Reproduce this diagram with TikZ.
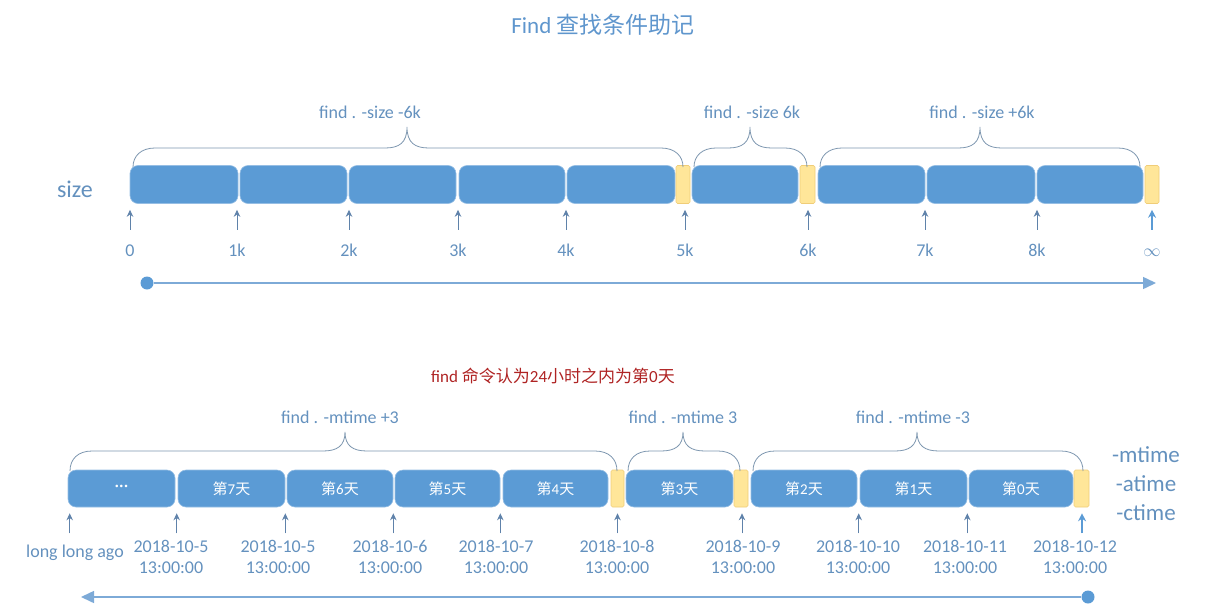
\documentclass[tikz,border=0pt]{standalone}
\usepackage{fontspec}
\setmainfont{Carlito}
\newfontfamily\cjk{Noto Sans CJK SC}
\usetikzlibrary{arrows.meta}
\definecolor{boxblue}{RGB}{91,155,213}
\definecolor{boxedge}{RGB}{150,190,228}
\definecolor{ylw}{RGB}{255,230,153}
\definecolor{ylwedge}{RGB}{240,205,120}
\definecolor{txtblue}{RGB}{100,145,190}
\definecolor{titleblue}{RGB}{95,150,205}
\definecolor{tickc}{RGB}{95,130,170}
\definecolor{bracec}{RGB}{125,150,175}
\definecolor{axisc}{RGB}{125,170,215}
\definecolor{redtxt}{RGB}{175,35,35}
\newcommand{\seg}[6]{%
  \pgfmathsetmacro\segc{(#3+#4)/2}%
  \pgfmathsetmacro\segw{#4-#3}%
  \node[#1, minimum width=\segw pt] (#2) at (\segc,#5) {#6};}
\newcommand{\curly}[6]{%
  \draw[brace] (#1,#4) .. controls (#1,#5+8) and (#1+8,#5) .. (#1+22,#5)
    -- (#3-22,#5) .. controls (#3-8,#5) and (#3,#5-5) .. (#3,#6)
    .. controls (#3,#5-5) and (#3+8,#5) .. (#3+22,#5)
    -- (#2-22,#5) .. controls (#2-8,#5) and (#2,#5+8) .. (#2,#4);}
\newcommand{\di}[1]{{\cjk 第}#1{\cjk 天}}
\begin{document}
\begin{tikzpicture}[x=1pt,y=-1pt,
  bbox/.style={fill=boxblue, draw=boxedge, line width=0.6pt, rounded corners=8pt, inner sep=0pt, text=white, font=\fontsize{15}{17}\selectfont},
  ybox/.style={fill=ylw, draw=ylwedge, line width=0.6pt, rounded corners=1.5pt, inner sep=0pt},
  lbl/.style={text=txtblue, font=\fontsize{18}{21}\selectfont, inner sep=0pt},
  tlbl/.style={lbl, anchor=base, text height=12pt, text depth=0pt},
  dlbl/.style={lbl, align=center, anchor=north},
  tick/.style={draw=tickc, line width=1pt, -{Stealth[length=7pt,width=6.5pt]}},
  tickb/.style={draw=boxblue, line width=1.4pt, -{Stealth[length=8pt,width=8pt]}},
  brace/.style={draw=bracec, line width=0.8pt},
  axis/.style={draw=axisc, line width=1.5pt},
  dot/.style={circle, fill=boxblue, inner sep=0pt, minimum size=13pt}]
\useasboundingbox (0,0) rectangle (1225,605);

% title
\node[font=\fontsize{23}{26}\selectfont, text=titleblue, inner sep=0pt] (title) at (603,25) {Find {\cjk 查找条件助记}};

% ---------- size row ----------
\node[lbl, font=\fontsize{24}{26}\selectfont] (sz) at (75,189) {size};
\seg{bbox,minimum height=38pt}{A1}{130}{238}{184.5}{}
\seg{bbox,minimum height=38pt}{A2}{240}{347}{184.5}{}
\seg{bbox,minimum height=38pt}{A3}{349}{456}{184.5}{}
\seg{bbox,minimum height=38pt}{A4}{459}{565}{184.5}{}
\seg{bbox,minimum height=38pt}{A5}{567}{675}{184.5}{}
\seg{ybox,minimum height=38pt}{Y1}{676}{690}{184.5}{}
\seg{bbox,minimum height=38pt}{A6}{692}{798}{184.5}{}
\seg{ybox,minimum height=38pt}{Y2}{800}{815}{184.5}{}
\seg{bbox,minimum height=38pt}{A7}{818}{925}{184.5}{}
\seg{bbox,minimum height=38pt}{A8}{927}{1035}{184.5}{}
\seg{bbox,minimum height=38pt}{A9}{1037}{1143}{184.5}{}
\seg{ybox,minimum height=38pt}{Y3}{1145}{1159}{184.5}{}

\curly{133}{683}{407}{167}{148}{127}
\curly{694}{807}{750}{167}{148}{127}
\curly{820}{1140}{980}{167}{148}{127}
\node[lbl] (q1) at (370,112) {find . -size -6k};
\node[lbl] (q2) at (752,112) {find . -size 6k};
\node[lbl] (q3) at (982,112) {find . -size +6k};

\node[tlbl] (t0) at (130,256) {0};
\node[tlbl] (t1) at (237,256) {1k};
\node[tlbl] (t2) at (349,256) {2k};
\node[tlbl] (t3) at (458,256) {3k};
\node[tlbl] (t4) at (566,256) {4k};
\node[tlbl] (t5) at (685,256) {5k};
\node[tlbl] (t6) at (808,256) {6k};
\node[tlbl] (t7) at (925,256) {7k};
\node[tlbl] (t8) at (1037,256) {8k};
\node[tlbl] (t9) at (1152,256) {$\infty$};
\foreach \n in {t0,t1,t2,t3,t4,t5,t6,t7,t8}
  \draw[tick] ([yshift=14pt]\n.north) -- ++(0,-20);
\draw[tickb] ([yshift=14pt]t9.north) -- ++(0,-20);

\node[dot] (o1) at (147,283) {};
\coordinate (e1) at (1156,283);
\draw[axis, -{Triangle[length=13pt,width=12pt]}] (o1) -- (e1);

% ---------- time row ----------
\node[font=\fontsize{17}{20}\selectfont, text=redtxt, inner sep=0pt] (note) at (553,376) {find {\cjk 命令认为}24{\cjk 小时之内为第}0{\cjk 天}};

\seg{bbox,minimum height=37pt}{B1}{68}{175}{488.5}{\fontsize{18}{20}\selectfont ···}
\seg{bbox,minimum height=37pt}{B2}{178}{285}{488.5}{\di{7}}
\seg{bbox,minimum height=37pt}{B3}{287}{393}{488.5}{\di{6}}
\seg{bbox,minimum height=37pt}{B4}{395}{500}{488.5}{\di{5}}
\seg{bbox,minimum height=37pt}{B5}{503}{608}{488.5}{\di{4}}
\seg{ybox,minimum height=37pt}{Z1}{611}{624}{488.5}{}
\seg{bbox,minimum height=37pt}{B6}{626}{733}{488.5}{\di{3}}
\seg{ybox,minimum height=37pt}{Z2}{734}{748}{488.5}{}
\seg{bbox,minimum height=37pt}{B7}{751}{857}{488.5}{\di{2}}
\seg{bbox,minimum height=37pt}{B8}{860}{967}{488.5}{\di{1}}
\seg{bbox,minimum height=37pt}{B9}{969}{1073}{488.5}{\di{0}}
\seg{ybox,minimum height=37pt}{Z3}{1074}{1089}{488.5}{}

\curly{70}{617}{345}{471}{451}{432}
\curly{628}{740}{683}{471}{451}{432}
\curly{753}{1083}{917}{471}{451}{432}
\node[lbl] (m1) at (340,417) {find . -mtime +3};
\node[lbl] (m2) at (683,417) {find . -mtime 3};
\node[lbl] (m3) at (913,417) {find . -mtime -3};

\node[lbl, font=\fontsize{23}{29}\selectfont, align=center] (tm) at (1146,484) {-mtime\\-atime\\-ctime};

\draw[tick] ([shift={(2,26)}]B1.south west) -- ++(0,-20);
\draw[tick] ([shift={(-1,26)}]B2.south west) -- ++(0,-20);
\draw[tick] ([shift={(0,26)}]B2.south east) -- ++(0,-20);
\draw[tick] ([shift={(0,26)}]B3.south east) -- ++(0,-20);
\draw[tick] ([shift={(0,26)}]B4.south east) -- ++(0,-20);
\draw[tick] ([shift={(0,26)}]Z1.south) -- ++(0,-20);
\draw[tick] ([shift={(1,26)}]Z2.south) -- ++(0,-20);
\draw[tick] ([shift={(-1,26)}]B8.south west) -- ++(0,-20);
\draw[tick] ([shift={(0,26)}]B8.south east) -- ++(0,-20);
\draw[tickb] ([shift={(0.5,26)}]Z3.south) -- ++(0,-20);

\node[lbl, anchor=base] (ago) at (75,557) {long long ago};
\node[dlbl] (d1) at (171,540) {2018-10-5\\13:00:00};
\node[dlbl] (d2) at (278,540) {2018-10-5\\13:00:00};
\node[dlbl] (d3) at (390,540) {2018-10-6\\13:00:00};
\node[dlbl] (d4) at (496,540) {2018-10-7\\13:00:00};
\node[dlbl] (d5) at (617,540) {2018-10-8\\13:00:00};
\node[dlbl] (d6) at (743,540) {2018-10-9\\13:00:00};
\node[dlbl] (d7) at (858,540) {2018-10-10\\13:00:00};
\node[dlbl] (d8) at (965,540) {2018-10-11\\13:00:00};
\node[dlbl] (d9) at (1075,540) {2018-10-12\\13:00:00};

\node[dot] (o2) at (1088,597) {};
\coordinate (e2) at (81,597);
\draw[axis, -{Triangle[length=13pt,width=12pt]}] (o2) -- (e2);
\end{tikzpicture}
\end{document}
